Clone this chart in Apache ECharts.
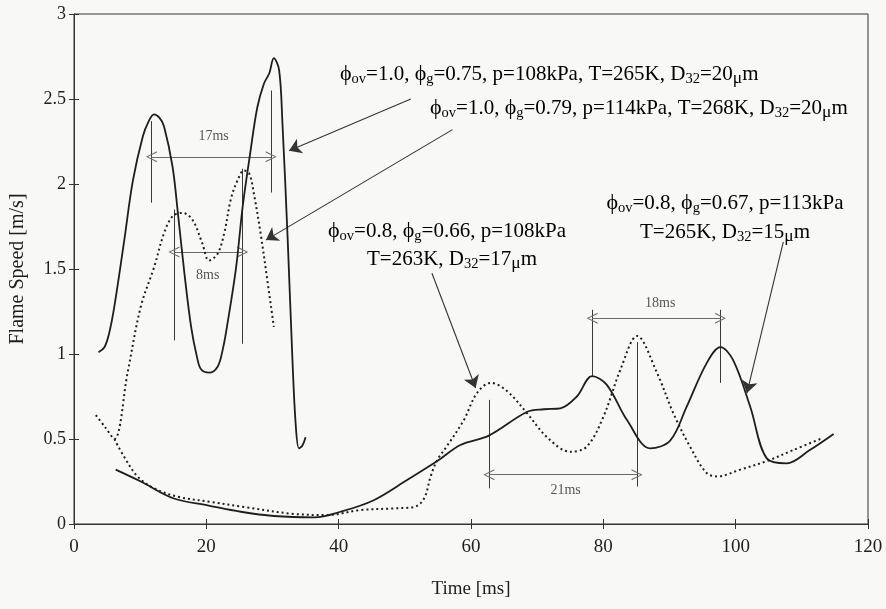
<!DOCTYPE html>
<html>
<head>
<meta charset="utf-8">
<style>
  html, body { margin: 0; padding: 0; background: #f8f8f6; }
  #chart { width: 886px; height: 609px; }
</style>
<script src="https://cdn.jsdelivr.net/npm/echarts@6/dist/echarts.min.js"></script>
</head>
<body>
<div id="chart"></div>
<script>
// phi_ov=1.0, phi_g=0.75 (solid, left)
const aTime = [3.7, 4.6, 5.3, 6.1, 7.6, 8.9, 10.4, 11.3, 12.1, 12.9, 13.6, 14.9, 15.7, 16.7, 17.7, 18.6, 19.2, 20.4, 21.7, 22.5, 23.2, 24.5, 25.5, 26.7, 27.7, 28.7, 29.5, 30.2, 31.0, 31.5, 32.3, 33.0, 33.5, 34.0, 34.5, 35.0]
const aSpeed = [1.01, 1.04, 1.12, 1.28, 1.67, 2.02, 2.28, 2.37, 2.41, 2.39, 2.34, 2.10, 1.83, 1.47, 1.16, 0.98, 0.91, 0.89, 0.925, 1.03, 1.18, 1.51, 1.87, 2.20, 2.45, 2.59, 2.65, 2.74, 2.67, 2.36, 1.67, 0.98, 0.59, 0.445, 0.46, 0.51]
// phi_ov=1.0, phi_g=0.79 (dotted, left)
const bTime = [3.3, 4.7, 6.1, 8.1, 10.1, 12.1, 13.6, 14.9, 16.4, 17.9, 19.4, 20.4, 21.7, 22.7, 23.7, 24.7, 25.7, 26.5, 27.2, 28.2, 29.2, 30.2]
const bSpeed = [0.64, 0.57, 0.50, 0.89, 1.28, 1.51, 1.71, 1.81, 1.83, 1.79, 1.65, 1.55, 1.59, 1.71, 1.91, 2.02, 2.08, 2.06, 1.94, 1.71, 1.44, 1.16]
// phi_ov=0.8, phi_g=0.67 (solid, long)
const cTime = [6.3, 10.1, 15.1, 20.2, 25.2, 30.2, 36.3, 40.3, 45.3, 50.4, 54.9, 58.4, 62.7, 68.5, 71.0, 73.5, 76.0, 78.3, 80.5, 83.6, 87.1, 90.1, 92.6, 95.6, 97.7, 99.6, 102.2, 104.7, 107.7, 111.2, 114.8]
const cSpeed = [0.32, 0.25, 0.15, 0.11, 0.072, 0.047, 0.039, 0.072, 0.14, 0.26, 0.37, 0.465, 0.52, 0.66, 0.675, 0.68, 0.75, 0.87, 0.82, 0.61, 0.445, 0.49, 0.69, 0.945, 1.04, 0.965, 0.69, 0.386, 0.357, 0.435, 0.53]
// phi_ov=0.8, phi_g=0.66 (dotted, long)
const dTime = [6.1, 7.5, 9.6, 12.1, 15.7, 20.7, 25.7, 33.3, 38.3, 43.3, 48.3, 51.4, 52.9, 53.9, 54.9, 56.4, 58.9, 60.9, 63.0, 65.5, 68.5, 71.5, 75.0, 77.5, 80.0, 82.6, 85.1, 88.1, 90.6, 93.1, 95.6, 97.2, 100.7, 104.7, 108.7, 112.8]
const dSpeed = [0.50, 0.40, 0.28, 0.21, 0.16, 0.13, 0.10, 0.059, 0.053, 0.082, 0.092, 0.10, 0.15, 0.28, 0.376, 0.46, 0.61, 0.77, 0.83, 0.78, 0.65, 0.51, 0.425, 0.455, 0.63, 0.91, 1.106, 0.89, 0.65, 0.455, 0.30, 0.28, 0.32, 0.37, 0.435, 0.50]

// peak markers (vertical lines) and period spans
const guideX = [11.7, 29.8, 15.1, 25.5, 62.7, 85.1, 78.3, 97.7]
const guideLow = [1.89, 1.95, 1.08, 1.06, 0.21, 0.22, 0.87, 0.83]
const guideHigh = [2.37, 2.55, 1.85, 2.09, 0.73, 1.07, 1.26, 1.26]
const spanFrom = [11.7, 15.1, 62.7, 78.3]
const spanTo = [29.8, 25.5, 85.1, 97.7]
const spanLevel = [2.16, 1.60, 0.29, 1.21]
const spanText = ['17ms', '8ms', '21ms', '18ms']
const spanTextX = [21.1, 20.2, 74.3, 88.6]
const spanTextY = [2.28, 1.46, 0.20, 1.30]

// arrows from the condition labels to the curves
const ptrFromX = [50.9, 57.2, 54.1, 107.2]
const ptrFromY = [2.50, 2.32, 1.475, 1.66]
const ptrToX = [32.5, 29.0, 60.7, 101.7]
const ptrToY = [2.196, 1.67, 0.80, 0.77]

const xTicks = [0, 120, 20]
const yTicks = [0, 3, 0.5]

const ink = '#1e1e1e'
const serif = '"Liberation Serif", "DejaVu Serif", serif'

const zip = (xs, ys) => xs.map((x, i) => [x, ys[i]])

const curve = (name, xs, ys, dotted) => ({
  type: 'line',
  name: name,
  data: zip(xs, ys),
  smooth: 0.35,
  showSymbol: false,
  silent: true,
  lineStyle: {
    color: ink,
    width: dotted ? 2 : 1.8,
    type: dotted ? [2, 3] : 'solid'
  }
})

const chevron = 'path://M5,0 L10,14 L8.8,14 L5,2.6 L1.2,14 L0,14 Z'

// little helpers for the phi / subscript labels
const phi = (sub) => `{p|ϕ}{s|${sub}}`
const cond = (t) => `{b|${t}}`
const labelRich = {
  b: { fontSize: 21, fontFamily: serif, color: ink },
  p: { fontSize: 22, fontFamily: serif, color: ink },
  s: { fontSize: 14.5, fontFamily: serif, color: ink, padding: [11, 0, 0, 0] },
  m: { fontSize: 17.5, fontFamily: serif, color: ink, padding: [9, 0, 0, 0] }
}

const labels = [
  { x: 340, y: 74, align: 'left',
    text: phi('ov') + cond('=1.0, ') + phi('g') + cond('=0.75, p=108kPa, T=265K, D') + '{s|32}' + cond('=20') + '{m|μ}' + cond('m') },
  { x: 430, y: 108, align: 'left',
    text: phi('ov') + cond('=1.0, ') + phi('g') + cond('=0.79, p=114kPa, T=268K, D') + '{s|32}' + cond('=20') + '{m|μ}' + cond('m') },
  { x: 447, y: 231, align: 'center',
    text: phi('ov') + cond('=0.8, ') + phi('g') + cond('=0.66, p=108kPa') },
  { x: 452, y: 259, align: 'center',
    text: cond('T=263K, D') + '{s|32}' + cond('=17') + '{m|μ}' + cond('m') },
  { x: 725, y: 203, align: 'center',
    text: phi('ov') + cond('=0.8, ') + phi('g') + cond('=0.67, p=113kPa') },
  { x: 725, y: 232, align: 'center',
    text: cond('T=265K, D') + '{s|32}' + cond('=15') + '{m|μ}' + cond('m') }
]

const chart = echarts.init(document.getElementById('chart'))

const option = {
  backgroundColor: '#f8f8f6',
  animation: false,
  grid: {
    left: 73, right: 18, top: 14, bottom: 85,
    show: true,
    borderColor: '#333',
    borderWidth: 1
  },
  xAxis: [
    {
      type: 'value',
      min: xTicks[0], max: xTicks[1], interval: xTicks[2],
      name: 'Time [ms]',
      nameLocation: 'middle',
      nameGap: 56,
      nameTextStyle: { fontFamily: serif, fontSize: 19, color: ink },
      axisLine: { lineStyle: { color: '#333', width: 1 } },
      axisTick: { show: true, length: 5, lineStyle: { color: '#333' } },
      axisLabel: { fontFamily: serif, fontSize: 19, color: ink, margin: 14 },
      splitLine: { show: false }
    },
    {
      // inner half of the crossing ticks
      type: 'value',
      position: 'bottom',
      min: xTicks[0], max: xTicks[1], interval: xTicks[2],
      axisLine: { show: false },
      axisTick: { show: true, inside: true, length: 5, lineStyle: { color: '#333' } },
      axisLabel: { show: false },
      splitLine: { show: false }
    }
  ],
  yAxis: [
    {
      type: 'value',
      min: yTicks[0], max: yTicks[1], interval: yTicks[2],
      name: 'Flame Speed [m/s]',
      nameLocation: 'middle',
      nameGap: 46,
      nameTextStyle: { fontFamily: serif, fontSize: 20, color: ink },
      axisLine: { show: true, lineStyle: { color: '#333', width: 1 } },
      axisTick: { show: true, length: 5, lineStyle: { color: '#333' } },
      axisLabel: { fontFamily: serif, fontSize: 18, color: ink, margin: 8 },
      splitLine: { show: false }
    },
    {
      type: 'value',
      position: 'left',
      min: yTicks[0], max: yTicks[1], interval: yTicks[2],
      axisLine: { show: false },
      axisTick: { show: true, inside: true, length: 5, lineStyle: { color: '#333' } },
      axisLabel: { show: false },
      splitLine: { show: false }
    }
  ],
  series: [
    curve('phi_ov=1.0, phi_g=0.75', aTime, aSpeed, false),
    curve('phi_ov=1.0, phi_g=0.79', bTime, bSpeed, true),
    curve('phi_ov=0.8, phi_g=0.67', cTime, cSpeed, false),
    curve('phi_ov=0.8, phi_g=0.66', dTime, dSpeed, true),
    {
      type: 'lines',
      name: 'peaks',
      coordinateSystem: 'cartesian2d',
      silent: true,
      symbol: 'none',
      lineStyle: { color: '#3a3a3a', width: 1, opacity: 1 },
      data: guideX.map((x, i) => ({ coords: [[x, guideLow[i]], [x, guideHigh[i]]] }))
    },
    {
      type: 'lines',
      name: 'spans',
      coordinateSystem: 'cartesian2d',
      silent: true,
      symbol: [chevron, chevron],
      symbolSize: 11,
      lineStyle: { color: '#6a6a6a', width: 1, opacity: 1 },
      data: spanFrom.map((x, i) => ({ coords: [[x, spanLevel[i]], [spanTo[i], spanLevel[i]]] }))
    },
    {
      type: 'lines',
      name: 'pointers',
      coordinateSystem: 'cartesian2d',
      silent: true,
      symbol: ['none', 'arrow'],
      symbolSize: 12,
      lineStyle: { color: '#333', width: 1.1, opacity: 1 },
      data: ptrFromX.map((x, i) => ({ coords: [[x, ptrFromY[i]], [ptrToX[i], ptrToY[i]]] }))
    },
    {
      type: 'scatter',
      name: 'span labels',
      silent: true,
      symbolSize: 0,
      data: spanTextX.map((x, i) => ({ value: [x, spanTextY[i]], name: spanText[i] })),
      label: {
        show: true,
        position: 'inside',
        formatter: (p) => p.name,
        fontFamily: serif,
        fontSize: 14,
        color: '#2a2a2a'
      }
    }
  ],
  graphic: labels.map((l) => ({
    type: 'text',
    x: l.x,
    y: l.y,
    silent: true,
    style: {
      text: l.text,
      rich: labelRich,
      align: l.align,
      verticalAlign: 'middle'
    }
  }))
}

chart.setOption(option)
</script>
</body>
</html>
